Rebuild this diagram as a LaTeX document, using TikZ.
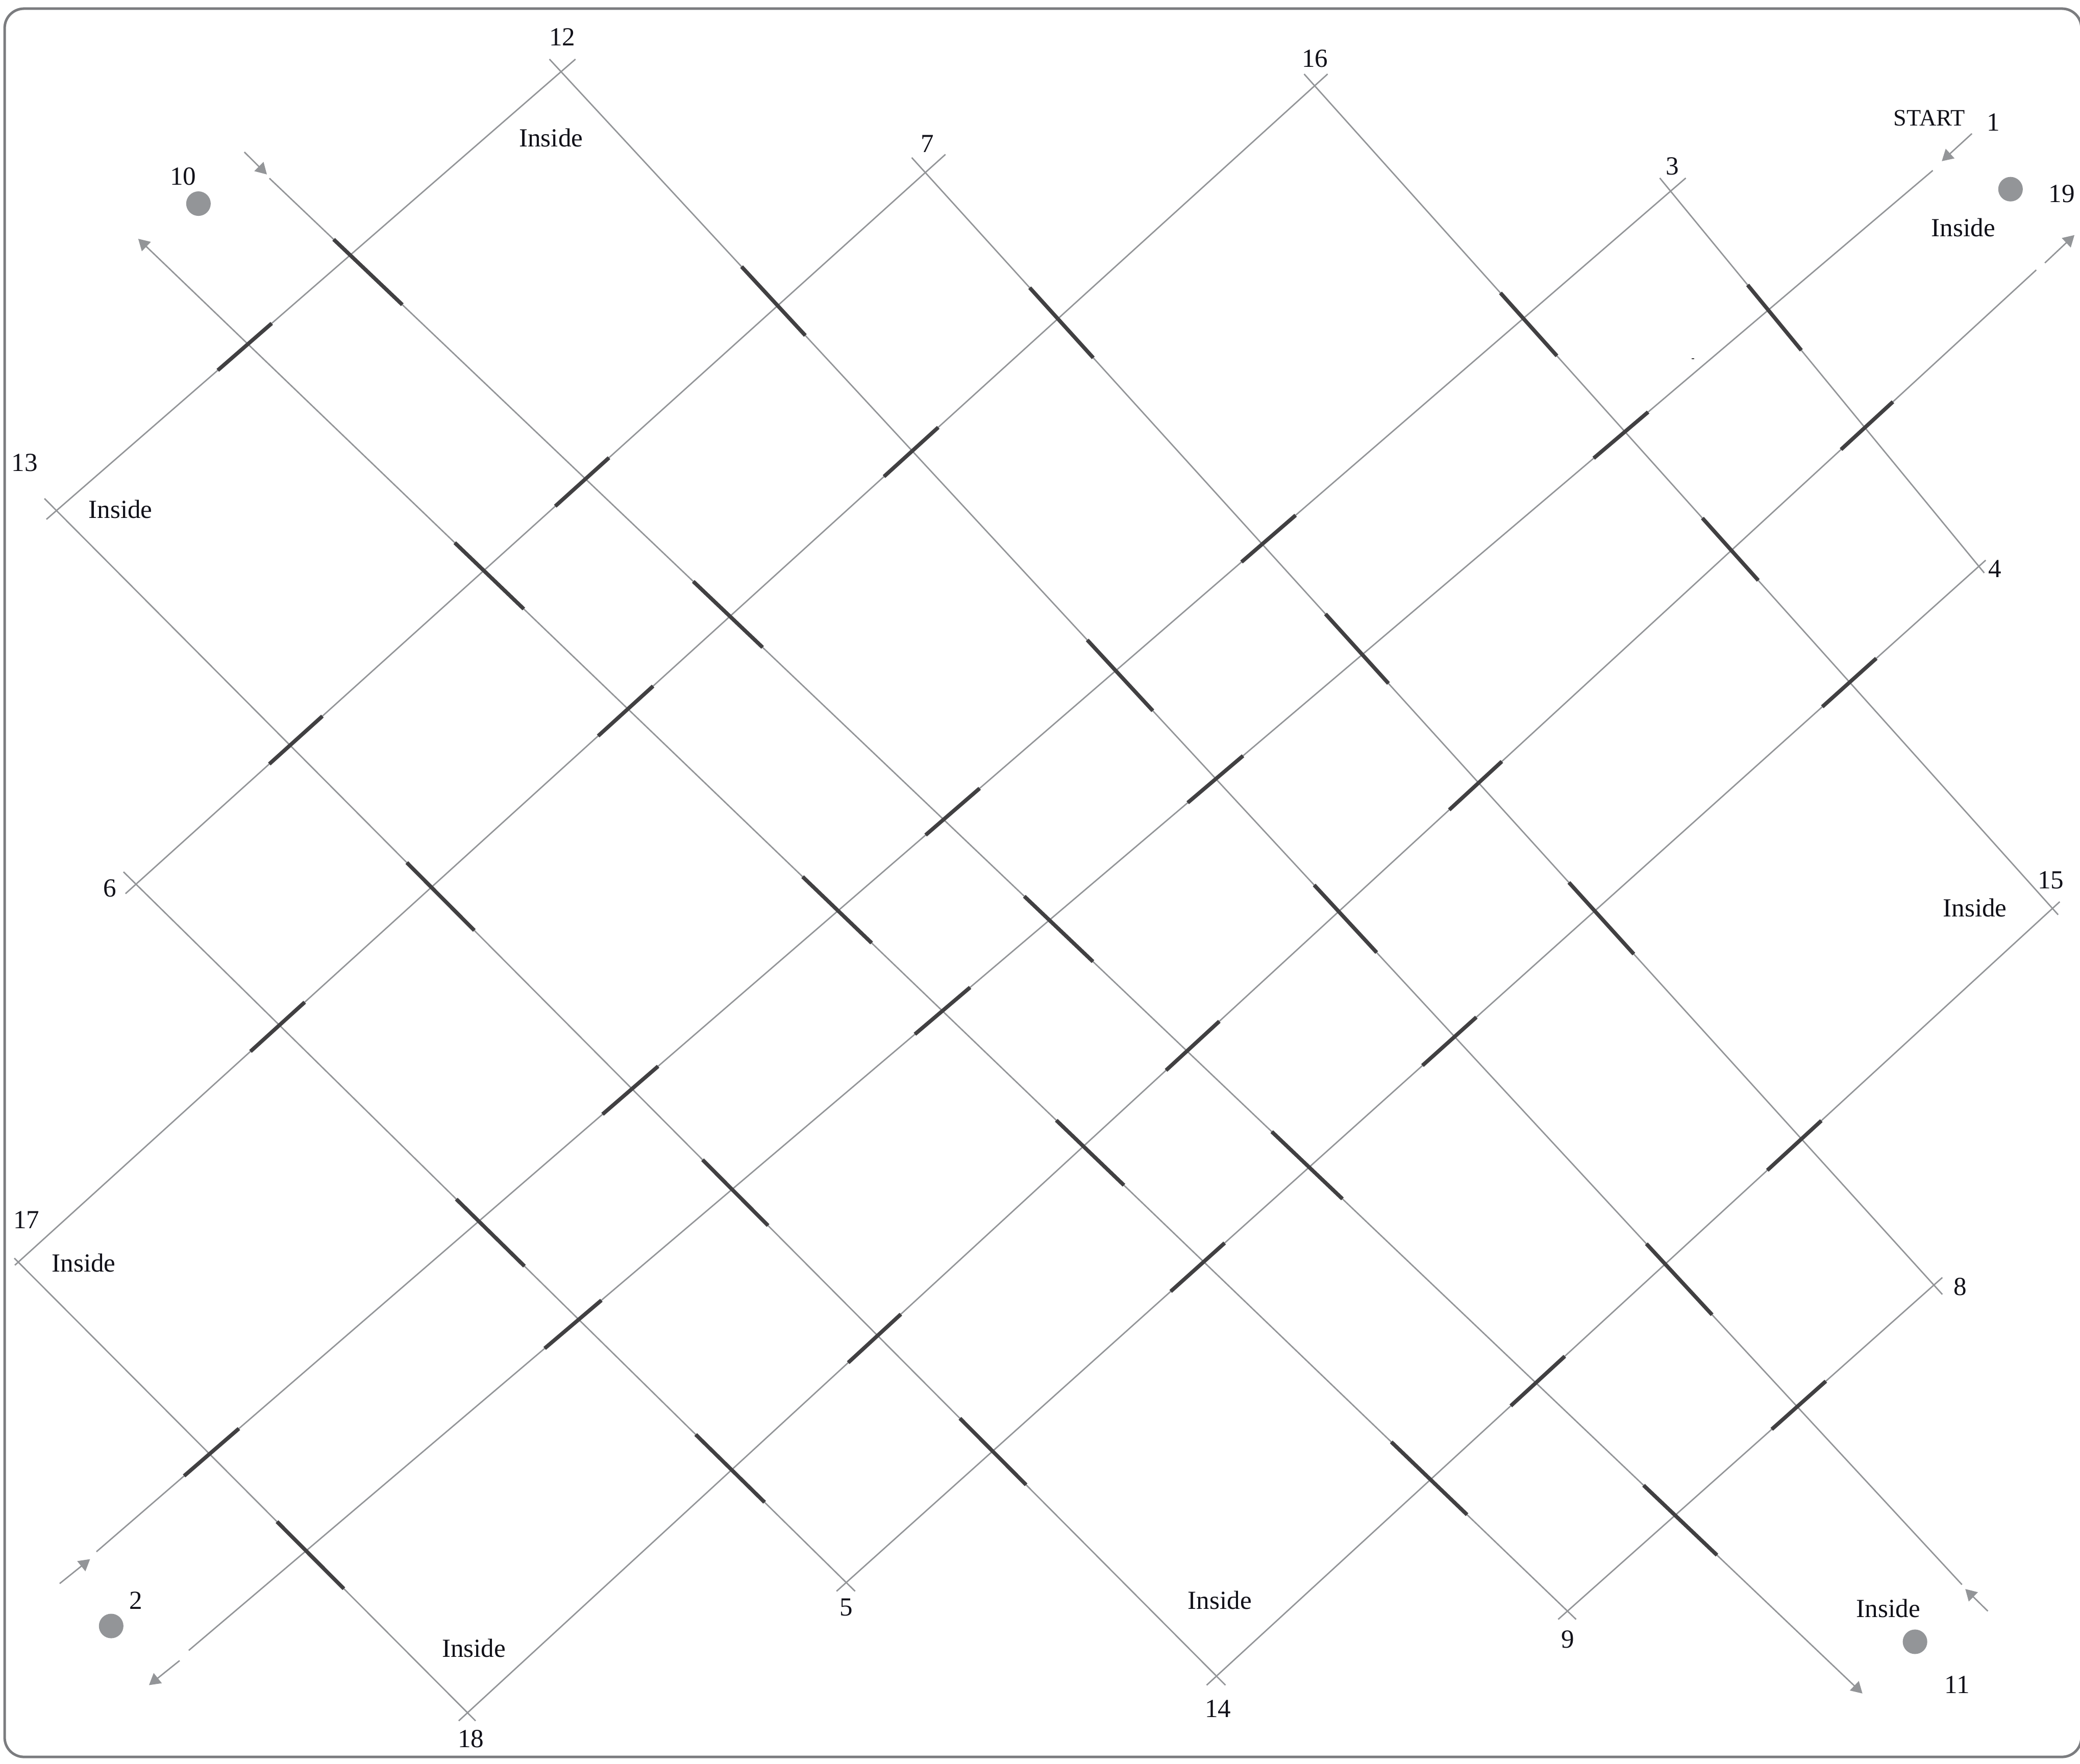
\documentclass[tikz,border=0pt]{standalone}
\usepackage{fontspec}
\usepackage{xcolor}
\usepackage{tikz}
\usetikzlibrary{arrows.meta, calc}
\setmainfont{Liberation Serif}
\definecolor{kframe}{HTML}{7B7C7F}
\definecolor{kline}{HTML}{939598}
\definecolor{kover}{HTML}{414042}
\definecolor{ktext}{HTML}{111119}
% thick piece of a strand: both ends are pushed onto the strand
\newcommand{\barAt}[4]{\draw[overpass] ($(#1)!(#3)!(#2)$) -- ($(#1)!(#4)!(#2)$);}

\begin{document}
\begin{tikzpicture}[
    x=1cm, y=-1cm,
    frame/.style={draw=kframe, line width=0.55pt, rounded corners=0.146cm},
    strand/.style={draw=kline, line width=0.3pt},
    tipline/.style={draw=kline, line width=0.3pt, -{Triangle[length=0.085cm, width=0.096cm, kline]}},
    overpass/.style={draw=kover, line width=0.82pt},
    numlabel/.style={font=\fontsize{5.6}{6.7}\selectfont, text=ktext, inner sep=0pt},
    insidelabel/.style={font=\fontsize{5.6}{6.7}\selectfont, text=ktext, inner sep=0pt},
    vertexdot/.style={circle, fill=kline, inner sep=0pt, minimum size=0.185cm},
]
\useasboundingbox (0,0) rectangle (15.68,13.295);

% ===== Frame =====
\draw[frame] (0.035,0.065) rectangle (15.69,13.245);

% ===== Strand ends, falling to the right =====
\coordinate (fallA) at (4.142,0.446);   \coordinate (fallAend) at (14.79,11.946);
\coordinate (fallB) at (2.031,1.344);   \coordinate (fallBend) at (14.04,12.767);
\coordinate (fallC) at (1.042,1.80);    \coordinate (fallCend) at (11.881,12.208);
\coordinate (fallD) at (0.335,3.758);   \coordinate (fallDend) at (9.238,12.704);
\coordinate (fallE) at (0.931,6.573);   \coordinate (fallEend) at (6.446,11.996);
\coordinate (fallF) at (0.108,9.485);   \coordinate (fallFend) at (3.585,12.973);
\coordinate (fallG) at (6.873,1.188);   \coordinate (fallGend) at (14.642,9.758);
\coordinate (fallH) at (9.831,0.558);   \coordinate (fallHend) at (15.515,6.896);
\coordinate (fallI) at (12.512,1.342);  \coordinate (fallIend) at (14.958,4.319);

% ===== Strand ends, rising to the right =====
\coordinate (riseA) at (4.338,0.446);   \coordinate (riseAend) at (0.35,3.915);
\coordinate (riseB) at (7.127,1.164);   \coordinate (riseBend) at (0.946,6.737);
\coordinate (riseC) at (10.008,0.558);  \coordinate (riseCend) at (0.112,9.538);
\coordinate (riseD) at (12.708,1.342);  \coordinate (riseDend) at (0.727,11.698);
\coordinate (riseE) at (14.57,1.285);   \coordinate (riseEend) at (1.423,12.442);
\coordinate (riseF) at (15.35,2.035);   \coordinate (riseFend) at (3.458,12.973);
\coordinate (riseG) at (14.969,4.223);  \coordinate (riseGend) at (6.306,11.996);
\coordinate (riseH) at (15.527,6.798);  \coordinate (riseHend) at (9.096,12.704);
\coordinate (riseI) at (14.642,9.631);  \coordinate (riseIend) at (11.746,12.208);

% ===== Thin strands =====
\draw[strand] (fallA) -- (fallAend);
\draw[tipline] (fallB) -- (fallBend);
\draw[tipline] (fallCend) -- (fallC);
\draw[strand] (fallD) -- (fallDend);
\draw[strand] (fallE) -- (fallEend);
\draw[strand] (fallF) -- (fallFend);
\draw[strand] (fallG) -- (fallGend);
\draw[strand] (fallH) -- (fallHend);
\draw[strand] (fallI) -- (fallIend);

\draw[strand] (riseA) -- (riseAend);
\draw[strand] (riseB) -- (riseBend);
\draw[strand] (riseC) -- (riseCend);
\draw[strand] (riseD) -- (riseDend);
\draw[strand] (riseE) -- (riseEend);
\draw[strand] (riseF) -- (riseFend);
\draw[strand] (riseG) -- (riseGend);
\draw[strand] (riseH) -- (riseHend);
\draw[strand] (riseI) -- (riseIend);

% ===== Short arrows past the gaps =====
\coordinate (tailA) at (14.865,1.007);  \coordinate (tipA) at (14.638,1.215);
\coordinate (tailB) at (15.415,1.982);  \coordinate (tipB) at (15.638,1.772);
\coordinate (tailC) at (0.45,11.938);   \coordinate (tipC) at (0.679,11.754);
\coordinate (tailD) at (1.354,12.519);  \coordinate (tipD) at (1.123,12.704);
\coordinate (tailE) at (14.985,12.146); \coordinate (tipE) at (14.815,11.979);
\coordinate (tailF) at (1.842,1.146);   \coordinate (tipF) at (2.012,1.315);
\draw[tipline] (tailA) -- (tipA);
\draw[tipline] (tailB) -- (tipB);
\draw[tipline] (tailC) -- (tipC);
\draw[tipline] (tailD) -- (tipD);
\draw[tipline] (tailE) -- (tipE);
\draw[tipline] (tailF) -- (tipF);

% ===== Thick pieces on falling strands =====
\barAt{fallA}{fallAend}{5.58,2.02}{6.07,2.53}
\barAt{fallA}{fallAend}{8.18,4.84}{8.70,5.35}
\barAt{fallA}{fallAend}{9.91,6.67}{10.38,7.18}
\barAt{fallA}{fallAend}{12.43,9.36}{12.92,9.90}

\barAt{fallB}{fallBend}{2.51,1.81}{3.03,2.30}
\barAt{fallB}{fallBend}{5.23,4.38}{5.75,4.88}
\barAt{fallB}{fallBend}{7.72,6.76}{8.24,7.25}
\barAt{fallB}{fallBend}{9.59,8.53}{10.12,9.04}
\barAt{fallB}{fallBend}{12.39,11.20}{12.94,11.73}

\barAt{fallC}{fallCend}{3.43,4.09}{3.95,4.59}
\barAt{fallC}{fallCend}{6.07,6.59}{6.59,7.09}
\barAt{fallC}{fallCend}{7.95,8.46}{8.46,8.95}
\barAt{fallC}{fallCend}{10.49,10.87}{11.06,11.42}

\barAt{fallD}{fallDend}{3.06,6.51}{3.58,7.01}
\barAt{fallD}{fallDend}{5.29,8.75}{5.79,9.24}
\barAt{fallD}{fallDend}{7.22,10.71}{7.73,11.20}

\barAt{fallE}{fallEend}{3.43,9.05}{3.95,9.55}
\barAt{fallE}{fallEend}{5.23,10.83}{5.76,11.33}

\barAt{fallF}{fallFend}{2.08,11.48}{2.60,11.97}

\barAt{fallG}{fallGend}{7.75,2.18}{8.25,2.69}
\barAt{fallG}{fallGend}{9.98,4.64}{10.47,5.15}
\barAt{fallG}{fallGend}{11.82,6.66}{12.32,7.19}

\barAt{fallH}{fallHend}{11.32,2.20}{11.74,2.68}
\barAt{fallH}{fallHend}{12.84,3.90}{13.25,4.38}

\barAt{fallI}{fallIend}{13.16,2.16}{13.58,2.64}

% ===== Thick pieces on rising strands =====
\barAt{riseA}{riseAend}{1.64,2.79}{2.05,2.44}

\barAt{riseB}{riseBend}{4.18,3.81}{4.59,3.45}
\barAt{riseB}{riseBend}{2.03,5.76}{2.44,5.41}

\barAt{riseC}{riseCend}{6.67,3.60}{7.08,3.23}
\barAt{riseC}{riseCend}{4.51,5.55}{4.92,5.17}
\barAt{riseC}{riseCend}{1.89,7.93}{2.30,7.56}

\barAt{riseD}{riseDend}{9.37,4.25}{9.78,3.90}
\barAt{riseD}{riseDend}{6.99,6.31}{7.39,5.95}
\barAt{riseD}{riseDend}{4.55,8.41}{4.97,8.05}
\barAt{riseD}{riseDend}{1.39,11.13}{1.80,10.77}

\barAt{riseE}{riseEend}{12.01,3.45}{12.41,3.09}
\barAt{riseE}{riseEend}{8.96,6.06}{9.38,5.71}
\barAt{riseE}{riseEend}{6.89,7.79}{7.30,7.43}
\barAt{riseE}{riseEend}{4.10,10.16}{4.53,9.80}

\barAt{riseF}{riseFend}{13.87,3.38}{14.27,3.03}
\barAt{riseF}{riseFend}{10.91,6.09}{11.32,5.74}
\barAt{riseF}{riseFend}{8.78,8.06}{9.20,7.71}
\barAt{riseF}{riseFend}{6.38,10.26}{6.80,9.92}

\barAt{riseG}{riseGend}{13.73,5.32}{14.15,4.97}
\barAt{riseG}{riseGend}{10.72,8.03}{11.13,7.67}
\barAt{riseG}{riseGend}{8.81,9.72}{9.23,9.37}

\barAt{riseH}{riseHend}{13.32,8.82}{13.74,8.46}
\barAt{riseH}{riseHend}{11.39,10.60}{11.80,10.23}

\barAt{riseI}{riseIend}{13.36,10.78}{13.77,10.42}

% stray tick
\coordinate (tickl) at (12.751,2.704);
\coordinate (tickr) at (12.773,2.704);
\draw[draw=kover, line width=0.2pt] (tickl) -- (tickr);

% ===== Dots =====
\node[vertexdot] (dot19) at (15.156,1.426) {};
\node[vertexdot] (dot10) at (1.496,1.535) {};
\node[vertexdot] (dot2) at (0.838,12.258) {};
\node[vertexdot] (dot11) at (14.436,12.377) {};

% ===== Numbers =====
\node[numlabel] (lab1) at (15.025,0.92) {1};
\node[numlabel] (lab2) at (1.023,12.065) {2};
\node[numlabel] (lab3) at (12.608,1.254) {3};
\node[numlabel] (lab4) at (15.038,4.288) {4};
\node[numlabel] (lab5) at (6.381,12.119) {5};
\node[numlabel] (lab6) at (0.827,6.696) {6};
\node[numlabel] (lab7) at (6.992,1.085) {7};
\node[numlabel] (lab8) at (14.777,9.70) {8};
\node[numlabel] (lab9) at (11.819,12.36) {9};
\node[numlabel] (lab10) at (1.381,1.331) {10};
\node[numlabel] (lab11) at (14.755,12.702) {11};
\node[numlabel] (lab12) at (4.238,0.28) {12};
\node[numlabel] (lab13) at (0.185,3.49) {13};
\node[numlabel] (lab14) at (9.181,12.881) {14};
\node[numlabel] (lab15) at (15.46,6.635) {15};
\node[numlabel] (lab16) at (9.912,0.44) {16};
\node[numlabel] (lab17) at (0.20,9.196) {17};
\node[numlabel] (lab18) at (3.55,13.108) {18};
\node[numlabel] (lab19) at (15.542,1.462) {19};
\node[numlabel, font=\fontsize{5.05}{6}\selectfont] (start) at (14.544,0.892) {START};

% ===== Inside labels =====
\node[insidelabel] (inA) at (4.154,1.038) {Inside};
\node[insidelabel] (inB) at (14.80,1.715) {Inside};
\node[insidelabel] (inC) at (0.908,3.838) {Inside};
\node[insidelabel] (inD) at (14.888,6.842) {Inside};
\node[insidelabel] (inE) at (0.631,9.52) {Inside};
\node[insidelabel] (inF) at (9.195,12.065) {Inside};
\node[insidelabel] (inG) at (14.235,12.125) {Inside};
\node[insidelabel] (inH) at (3.572,12.427) {Inside};

\end{tikzpicture}
\end{document}
